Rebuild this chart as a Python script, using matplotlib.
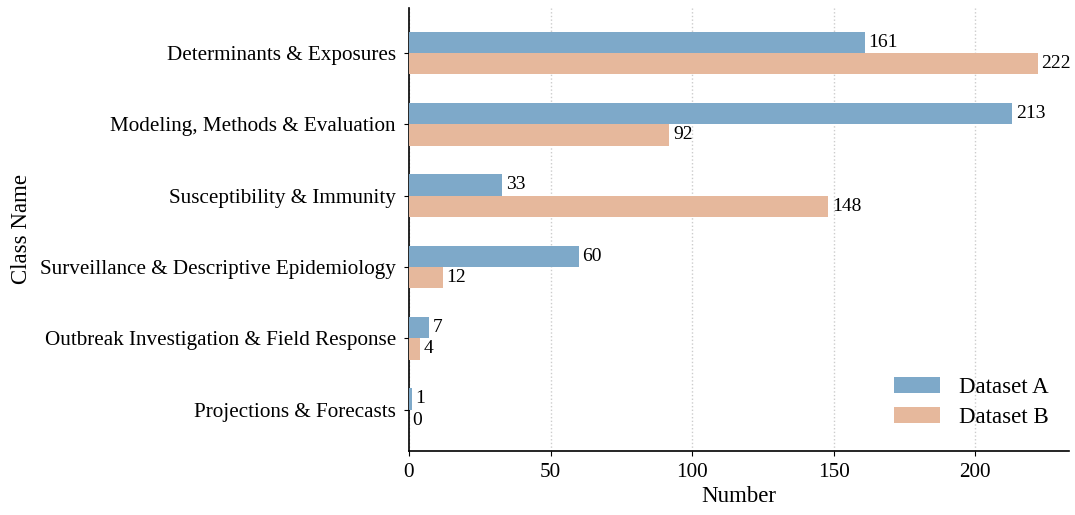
import matplotlib
matplotlib.use("Agg")
import matplotlib.pyplot as plt
import numpy as np

categories = ["Projections & Forecasts",
              "Outbreak Investigation & Field Response",
              "Surveillance & Descriptive Epidemiology",
              "Susceptibility & Immunity",
              "Modeling, Methods & Evaluation",
              "Determinants & Exposures"]
dataset_a = [1, 7, 60, 33, 213, 161]
dataset_b = [0, 4, 12, 148, 92, 222]

plt.rcParams['font.family'] = ['Liberation Serif', 'DejaVu Serif']

fig = plt.figure(figsize=(10.75, 5.15), dpi=100)
ax = fig.add_axes([409/1075, 1-451/515, (1069-409)/1075, (451-8)/515])

y = np.arange(len(categories))
h = 0.3
ca = '#7EA9C9'
cb = '#E6B89C'
ba = ax.barh(y + h/2, dataset_a, height=h, color=ca, label='Dataset A', zorder=3)
bb = ax.barh(y - h/2, dataset_b, height=h, color=cb, label='Dataset B', zorder=3)

for rect, v in zip(ba, dataset_a):
    ax.text(rect.get_width() + 1.3, rect.get_y() + rect.get_height()/2, str(v),
            va='center', ha='left', fontsize=14)
for rect, v in zip(bb, dataset_b):
    ax.text(rect.get_width() + 1.3, rect.get_y() + rect.get_height()/2, str(v),
            va='center', ha='left', fontsize=14)

ax.set_yticks(y)
ax.set_yticklabels(categories, fontsize=15.2)
ax.tick_params(axis='y', pad=6)
ax.set_xticks([0, 50, 100, 150, 200])
ax.tick_params(axis='x', labelsize=15.2, pad=5)
ax.set_xlim(0, 233.1)
ax.set_ylim(-0.58, 5.63)
ax.set_xlabel('Number', fontsize=16.5, labelpad=3)
ax.set_ylabel('Class Name', fontsize=16.5, labelpad=6)
ax.xaxis.grid(True, linestyle=':', color='#cccccc', linewidth=1, zorder=0)
ax.set_axisbelow(True)
for s in ['top', 'right']:
    ax.spines[s].set_visible(False)
for s in ['left', 'bottom']:
    ax.spines[s].set_linewidth(1.2)

ax.legend(loc='lower right', frameon=False, fontsize=16.5, handlelength=2.0,
          labelspacing=0.4, bbox_to_anchor=(1.0, 0.005))

fig.savefig('out.png', dpi=100)
